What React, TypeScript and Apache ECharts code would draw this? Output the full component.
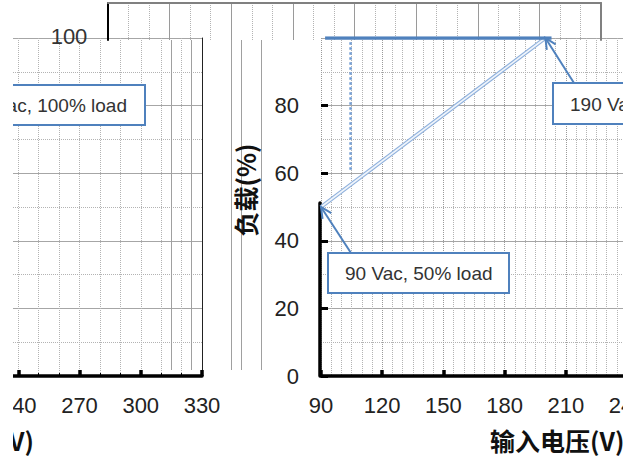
import React, { useEffect, useRef } from "react";
import * as echarts from "echarts";

// ---- data ----
const rightVoltageRange = [90, 240]; // right panel x axis (V)
const leftVoltageRange = [210, 330]; // left panel x axis (V)
const loadRange = [0, 100]; // %
const voltageStep = 30;
const loadStep = 20;
const topStripRange = [0, 240];
const midColumns = ["0", "1", "2", "3", "4", "5", "6", "7", "8", "9", "10"];
const midSolidColumns = [1, 3, 7, 8, 10];

const deratingVoltage = [90, 200];
const deratingLoad = [50, 100];
const fullLoadVoltage = [92, 203];
const fullLoadLevel = [100, 100];
const markerVoltage = [104.5, 104.5];
const markerLoad = [61, 99];

const lowPointLabel = "90 Vac, 50% load";
const highPointLabel = "190 Vac, 100% load";
const xTitle = "输入电压(V)";
const yTitle = "负载(%)";
const strayTopLabel = "100";

const FONT = "'Liberation Sans', Arial, sans-serif";
const CJK = "'Noto Sans CJK SC', sans-serif";
const BLUE = "#4f81bd";

const zip = (a: number[], b: number[]) => a.map((v, i) => [v, b[i]]);

function arrowHead(from: number[], to: number[], len = 12, ang = 0.45) {
  const a = Math.atan2(from[1] - to[1], from[0] - to[0]);
  return [
    [to[0] + len * Math.cos(a + ang), to[1] + len * Math.sin(a + ang)],
    [to[0], to[1]],
    [to[0] + len * Math.cos(a - ang), to[1] + len * Math.sin(a - ang)],
  ];
}

export default function App() {
  const ref = useRef<HTMLDivElement>(null);
  useEffect(() => {
    if (!ref.current) return;
    const chart = echarts.init(ref.current, undefined, { renderer: "svg" });
    const gridSolid = { color: "#a6a6a6", width: 1 };
    const gridDot = { color: "#b3b3b3", width: 1, type: "dotted" as const };
    const ob = { outerBoundsMode: "none", containLabel: false };
    chart.setOption({
      animation: false,
      backgroundColor: "#ffffff",
      grid: [
        { ...ob, left: 108, right: 22, top: 3, height: 37 },
        { ...ob, left: 161, width: 100, top: 40, height: 330 },
        { ...ob, left: -43, width: 245, top: 38, bottom: 87 },
        { ...ob, left: 321, right: -4, top: 38, bottom: 87 },
        { ...ob, left: 320, width: 10, top: 203, bottom: 87 },
      ],
      xAxis: [
        {
          gridIndex: 0, type: "value", min: topStripRange[0], max: topStripRange[1], interval: voltageStep,
          position: "top",
          axisLine: { show: true, onZero: false, lineStyle: { color: "#808080", width: 2 } },
          axisTick: { show: false }, axisLabel: { show: false },
          splitLine: { show: true, lineStyle: { color: "#9a9a9a", width: 1 } },
          minorTick: { show: false, splitNumber: 3 },
          minorSplitLine: { show: true, lineStyle: gridDot },
        },
        {
          gridIndex: 1, type: "category", data: midColumns, boundaryGap: false,
          axisLine: { show: false }, axisTick: { show: false }, axisLabel: { show: false },
          splitLine: {
            show: true,
            interval: (i: number) => midSolidColumns.includes(i),
            lineStyle: { color: "#a0a0a0", width: 1 },
          },
        },
        {
          gridIndex: 2, type: "value", min: leftVoltageRange[0], max: leftVoltageRange[1], interval: voltageStep,
          axisLine: { show: true, onZero: false, lineStyle: { color: "#000", width: 3.5 } },
          axisTick: { show: true, inside: true, length: 6, lineStyle: { color: "#000", width: 3.5 } },
          minorTick: { show: true, splitNumber: 3, length: 3, lineStyle: { color: "#000", width: 1 } },
          axisLabel: { fontSize: 22, color: "#222", margin: 18, fontFamily: FONT },
          splitLine: { show: true, lineStyle: gridDot },
          minorSplitLine: { show: true, lineStyle: gridDot },
        },
        {
          gridIndex: 3, type: "value", min: rightVoltageRange[0], max: rightVoltageRange[1], interval: voltageStep,
          axisLine: { show: true, onZero: false, lineStyle: { color: "#000", width: 3.5 } },
          axisTick: { show: true, inside: true, length: 6, lineStyle: { color: "#000", width: 3.5 } },
          minorTick: { show: false, splitNumber: 6 },
          axisLabel: { fontSize: 22, color: "#222", margin: 18, fontFamily: FONT },
          splitLine: { show: true, lineStyle: { color: "#9a9a9a", width: 1, type: "dotted" } },
          minorSplitLine: { show: true, lineStyle: gridDot },
        },
        { gridIndex: 4, type: "value", show: false },
      ],
      yAxis: [
        {
          gridIndex: 0, type: "value", min: 0, max: 1, position: "left",
          axisLine: { show: true, onZero: false, lineStyle: { color: "#000", width: 2 } },
          axisTick: { show: false }, axisLabel: { show: false }, splitLine: { show: false },
        },
        {
          gridIndex: 0, type: "value", min: 0, max: 1, position: "right",
          axisLine: { show: true, onZero: false, lineStyle: { color: "#808080", width: 2 } },
          axisTick: { show: false }, axisLabel: { show: false }, splitLine: { show: false },
        },
        { gridIndex: 1, type: "value", show: false },
        {
          gridIndex: 2, type: "value", min: loadRange[0], max: loadRange[1], interval: loadStep, position: "right",
          axisLine: { show: true, onZero: false, lineStyle: { color: "#222", width: 1 } },
          axisTick: { show: false }, axisLabel: { show: false },
          splitLine: { show: true, lineStyle: gridSolid },
          minorTick: { show: false, splitNumber: 2 },
          minorSplitLine: { show: true, lineStyle: gridDot },
        },
        {
          gridIndex: 3, type: "value", min: loadRange[0], max: loadRange[1], interval: loadStep,
          axisLine: { show: false, onZero: false },
          axisTick: { show: true, inside: true, length: 7, lineStyle: { color: "#000", width: 3 } },
          axisLabel: { fontSize: 22, color: "#222", margin: 22, fontFamily: FONT, showMaxLabel: false },
          splitLine: { show: true, lineStyle: gridSolid },
          minorTick: { show: false, splitNumber: 2 },
          minorSplitLine: { show: true, lineStyle: gridDot },
        },
        {
          gridIndex: 4, type: "value", min: 0, max: 1,
          axisLine: { show: true, onZero: false, lineStyle: { color: "#000", width: 3.5 } },
          axisTick: { show: false }, axisLabel: { show: false }, splitLine: { show: false },
        },
      ],
      series: [
        {
          type: "line", xAxisIndex: 3, yAxisIndex: 4, data: zip(markerVoltage, markerLoad),
          symbol: "none", lineStyle: { color: "#6f9bd3", width: 2.5, type: "dotted" }, z: 3,
        },
        {
          type: "line", xAxisIndex: 3, yAxisIndex: 4, data: zip(deratingVoltage, deratingLoad),
          symbol: "none", lineStyle: { color: "#8eb0dc", width: 4 }, z: 4,
        },
        {
          type: "line", xAxisIndex: 3, yAxisIndex: 4, data: zip(deratingVoltage, deratingLoad),
          symbol: "none", lineStyle: { color: "#f0f5fb", width: 1.6 }, z: 5,
        },
        {
          type: "line", xAxisIndex: 3, yAxisIndex: 4, data: zip(fullLoadVoltage, fullLoadLevel),
          symbol: "none", lineStyle: { color: BLUE, width: 3.5 }, z: 6,
        },
      ],
    });

    const lowTip = chart.convertToPixel({ xAxisIndex: 3, yAxisIndex: 4 }, [deratingVoltage[0], deratingLoad[0]]) as number[];
    const highTip = chart.convertToPixel({ xAxisIndex: 3, yAxisIndex: 4 }, [deratingVoltage[1], deratingLoad[1]]) as number[];
    const lowFrom = [351, 253];
    const highFrom = [574, 83];
    const arrowStyle = { stroke: BLUE, lineWidth: 2, fill: null };

    chart.setOption({
      graphic: [
        { type: "rect", z: 100, shape: { x: 328, y: 253, width: 181, height: 40 }, style: { fill: "#fff", stroke: BLUE, lineWidth: 2 } },
        { type: "text", z: 101, x: 345, y: 273, style: { text: lowPointLabel, fontSize: 19, fill: "#333", fontFamily: FONT, verticalAlign: "middle" } },
        { type: "rect", z: 100, shape: { x: 553, y: 83, width: 120, height: 41 }, style: { fill: "#fff", stroke: BLUE, lineWidth: 2 } },
        { type: "text", z: 101, x: 570, y: 104, style: { text: highPointLabel, fontSize: 19, fill: "#333", fontFamily: FONT, verticalAlign: "middle" } },
        { type: "rect", z: 100, shape: { x: -60, y: 85, width: 205, height: 40 }, style: { fill: "#fff", stroke: BLUE, lineWidth: 2 } },
        { type: "text", z: 101, x: 127, y: 105, style: { text: highPointLabel, fontSize: 19, fill: "#333", fontFamily: FONT, align: "right", verticalAlign: "middle" } },
        { type: "line", z: 102, shape: { x1: lowFrom[0], y1: lowFrom[1], x2: lowTip[0], y2: lowTip[1] }, style: arrowStyle },
        { type: "polyline", z: 102, shape: { points: arrowHead(lowFrom, lowTip) }, style: arrowStyle },
        { type: "line", z: 102, shape: { x1: highFrom[0], y1: highFrom[1], x2: highTip[0], y2: highTip[1] }, style: arrowStyle },
        { type: "polyline", z: 102, shape: { points: arrowHead(highFrom, highTip) }, style: arrowStyle },
        { type: "text", z: 101, x: 490, y: 440, style: { text: xTitle, fontSize: 25, fontWeight: "bold", fill: "#111", fontFamily: CJK, verticalAlign: "middle" } },
        { type: "text", z: 101, x: 34, y: 440, style: { text: xTitle, fontSize: 25, fontWeight: "bold", fill: "#111", fontFamily: CJK, align: "right", verticalAlign: "middle" } },
        { type: "text", z: 101, x: 245, y: 190, rotation: Math.PI / 2, style: { text: yTitle, fontSize: 25, fontWeight: "bold", fill: "#111", fontFamily: CJK, align: "center", verticalAlign: "middle" } },
        { type: "text", z: 101, x: 69, y: 36, style: { text: strayTopLabel, fontSize: 22, fill: "#333", fontFamily: FONT, align: "center", verticalAlign: "middle" } },
        { type: "rect", z: 200, shape: { x: 0, y: 0, width: 13, height: 463 }, style: { fill: "#fff" } },
      ],
    });
    return () => chart.dispose();
  }, []);
  return <div ref={ref} style={{ position: "absolute", left: 0, top: 0, width: 623, height: 463 }} />;
}
